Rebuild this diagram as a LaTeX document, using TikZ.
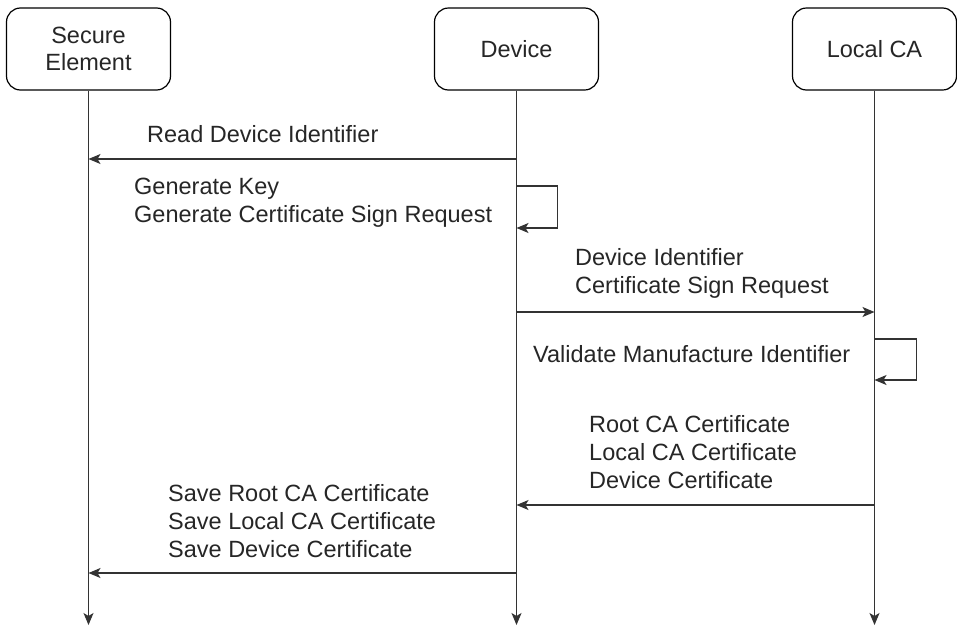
\documentclass[tikz,border=0pt]{standalone}
\usepackage{fontspec}
\setmainfont{Liberation Sans}
\usetikzlibrary{arrows.meta}
\begin{document}
\begin{tikzpicture}[x=1pt,y=-1pt,
  actor/.style={draw,line width=1.2pt,rounded corners=14pt,minimum width=164pt,minimum height=82pt,align=center,font=\fontsize{23.5}{27}\selectfont,text=black!85},
  lifeline/.style={line width=1.2pt,draw=black!80,-{Stealth[length=12pt,width=10pt,inset=3pt]}},
  msg/.style={line width=1.2pt,draw=black!80,-{Stealth[length=12pt,width=10pt,inset=3pt]}},
  lbl/.style={anchor=west,align=left,font=\fontsize{23.5}{28}\selectfont,text=black!85,inner sep=0pt}]
\useasboundingbox (0,0) rectangle (957,627);
\node[actor] (se) at (88.5,49) {Secure\\Element};
\node[actor] (dev) at (516.5,49) {Device};
\node[actor] (ca) at (874.5,49) {Local CA};
\coordinate (seE) at (88.5,625);
\coordinate (devE) at (516.5,625);
\coordinate (caE) at (874.5,625);
\draw[lifeline] (se.south) -- (seE);
\draw[lifeline] (dev.south) -- (devE);
\draw[lifeline] (ca.south) -- (caE);
% message 1
\coordinate (m1a) at (516.5,159);
\coordinate (m1b) at (88.5,159);
\draw[msg] (m1a) -- (m1b);
\node[lbl] (l1) at (147,134) {Read Device Identifier};
% self loop device
\coordinate (m2a) at (516.5,186);
\coordinate (m2b) at (516.5,228);
\draw[msg] (m2a) -- ++(41,0) |- (m2b);
\node[lbl] (l2) at (134,203) {Generate Key\\Generate Certificate Sign Request};
% message 3
\coordinate (m3a) at (516.5,312);
\coordinate (m3b) at (874.5,312);
\draw[msg] (m3a) -- (m3b);
\node[lbl] (l3) at (575,273) {Device Identifier\\Certificate Sign Request};
% self loop CA
\coordinate (m4a) at (874.5,339);
\coordinate (m4b) at (874.5,380);
\draw[msg] (m4a) -- ++(42,0) |- (m4b);
\node[lbl] (l4) at (533,354) {Validate Manufacture Identifier};
% message 5
\coordinate (m5a) at (874.5,505);
\coordinate (m5b) at (516.5,505);
\draw[msg] (m5a) -- (m5b);
\node[lbl] (l5) at (589,452) {Root CA Certificate\\Local CA Certificate\\Device Certificate};
% message 6
\coordinate (m6a) at (516.5,573);
\coordinate (m6b) at (88.5,573);
\draw[msg] (m6a) -- (m6b);
\node[lbl] (l6) at (168,521) {Save Root CA Certificate\\Save Local CA Certificate\\Save Device Certificate};
\end{tikzpicture}
\end{document}
